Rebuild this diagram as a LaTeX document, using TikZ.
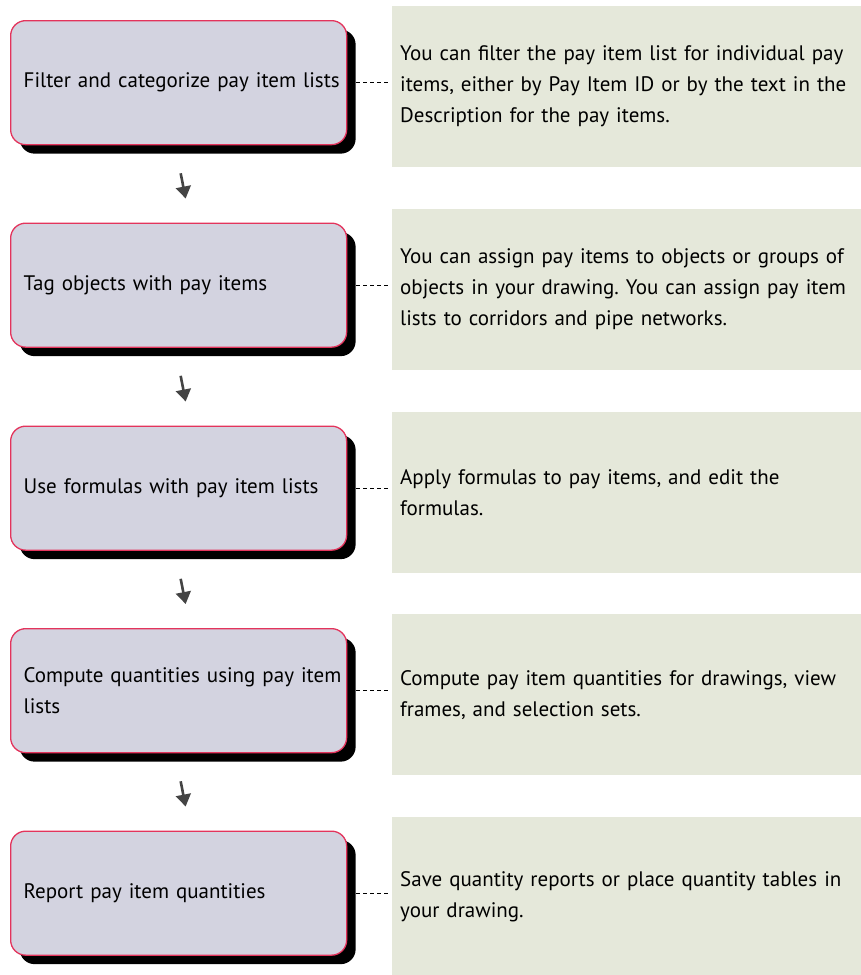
\documentclass[tikz,border=0pt]{standalone}
\usepackage{fontspec}
\setmainfont{PT Sans}
\frenchspacing
\usetikzlibrary{shadows,arrows.meta,calc}
\definecolor{boxfill}{HTML}{D3D3E0}
\definecolor{boxline}{HTML}{E3345C}
\definecolor{notefill}{HTML}{E5E8DA}
\definecolor{arrowc}{HTML}{444444}
\tikzset{
  stepbox/.style={draw=boxline, line width=1.3pt, fill=boxfill, rounded corners=15pt,
    minimum width=336pt, minimum height=124pt, text width=310pt, inner xsep=13pt,
    align=left, anchor=north west, font=\fontsize{21pt}{31pt}\selectfont,
    drop shadow={shadow xshift=9pt, shadow yshift=-9pt, opacity=1, fill=black}},
  notebox/.style={fill=notefill, draw=none, minimum width=469pt, minimum height=161pt,
    text width=453pt, inner xsep=8pt, align=left, anchor=north west,
    font=\fontsize{21pt}{31pt}\selectfont},
  flowarrow/.style={draw=arrowc, line width=2.6pt, -{Triangle[width=15pt,length=12pt]}, arrowc},
  link/.style={draw=black, line width=0.9pt, dash pattern=on 4pt off 3pt}
}
\begin{document}
\begin{tikzpicture}[x=1pt,y=-1pt]
\useasboundingbox (0,0) rectangle (861,975);
\node[stepbox] (b1) at (10,20) {\mbox{Filter and categorize pay item lists}};
\node[stepbox] (b2) at (10,222.5) {Tag objects with pay items};
\node[stepbox] (b3) at (10,425.5) {Use formulas with pay item lists};
\node[stepbox] (b4) at (10,628) {\mbox{Compute quantities using pay item}\\lists};
\node[stepbox] (b5) at (10,830.5) {Report pay item quantities};
\node[notebox] (g1) at (392,6) {\mbox{You can filter the pay item list for individual pay}\\\mbox{items, either by Pay Item ID or by the text in the}\\Description for the pay items.};
\node[notebox] (g2) at (392,208.5) {\mbox{You can assign pay items to objects or groups of}\\\mbox{objects in your drawing. You can assign pay item}\\lists to corridors and pipe networks.};
\node[notebox] (g3) at (392,411.5) {Apply formulas to pay items, and edit the\\formulas.};
\node[notebox] (g4) at (392,614) {Compute pay item quantities for drawings, view\\frames, and selection sets.};
\node[notebox] (g5) at (392,816.5) {\mbox{Save quantity reports or place quantity tables in}\\your drawing.};
\foreach \i in {1,...,5}{
  \draw[link] ([xshift=9pt]b\i.east) -- ([xshift=-2pt]b\i.east -| g\i.west);
}
\foreach \i/\j in {1/2,2/3,3/4,4/5}{
  \draw[flowarrow] ([xshift=2pt,yshift=-28pt]b\i.south) -- ([xshift=7pt,yshift=24pt]b\j.north);
}
\end{tikzpicture}
\end{document}
